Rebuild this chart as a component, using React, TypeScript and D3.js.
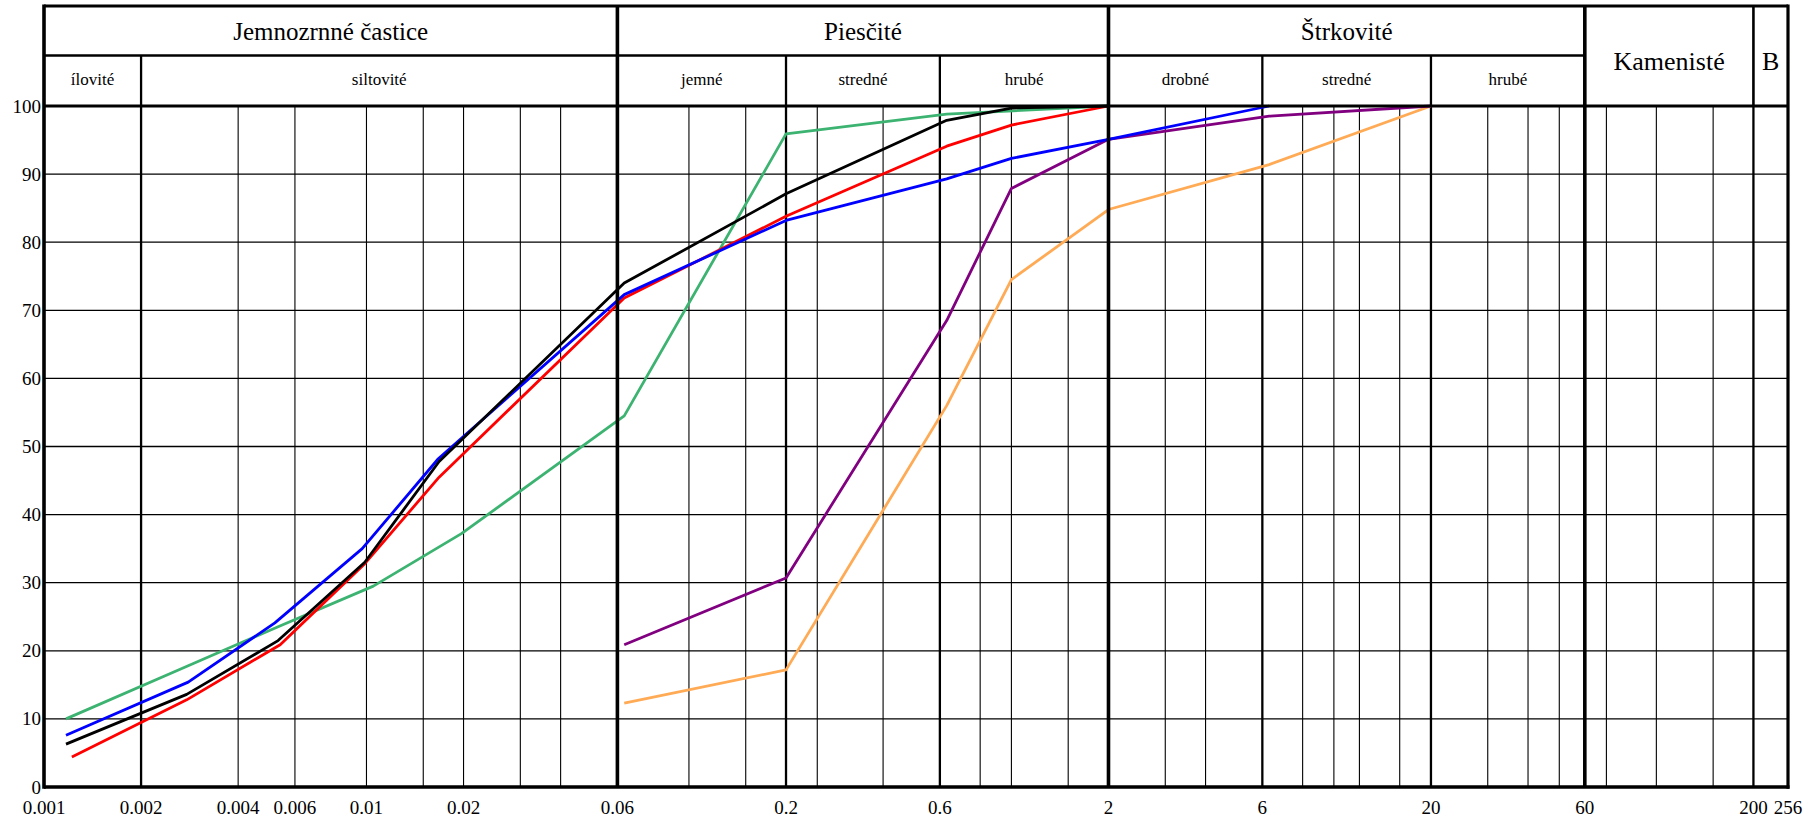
import React from "react";
import * as d3 from "d3";

const W = 1816;
const H = 816;

// Tick labels
const xTickValues = [0.001, 0.002, 0.004, 0.006, 0.01, 0.02, 0.06, 0.2, 0.6, 2, 6, 20, 60, 200, 256];
const xTickLabels = ["0.001", "0.002", "0.004", "0.006", "0.01", "0.02", "0.06", "0.2", "0.6", "2", "6", "20", "60", "200", "256"];
const yTickValues = [0, 10, 20, 30, 40, 50, 60, 70, 80, 90, 100];

// Grid lines
const majorLines = [0.06, 2, 60];
const mediumLines = [0.002, 0.2, 0.6, 6, 20, 200];
const minorLines = [0.004, 0.006, 0.01, 0.015, 0.02, 0.03, 0.04, 0.1, 0.15, 0.25, 0.4, 0.8, 1.0, 1.5, 3, 4, 8, 10, 12, 16, 30, 40, 50, 70, 100, 150];

// Header classes
const topClasses = [
  { label: "Jemnozrnné častice", from: 0.001, to: 0.06 },
  { label: "Piesčité", from: 0.06, to: 2 },
  { label: "Štrkovité", from: 2, to: 60 },
];
const fullClasses = [
  { label: "Kamenisté", from: 60, to: 200 },
  { label: "B", from: 200, to: 256 },
];
const subClasses = [
  { label: "ílovité", from: 0.001, to: 0.002 },
  { label: "siltovité", from: 0.002, to: 0.06 },
  { label: "jemné", from: 0.06, to: 0.2 },
  { label: "stredné", from: 0.2, to: 0.6 },
  { label: "hrubé", from: 0.6, to: 2 },
  { label: "drobné", from: 2, to: 6 },
  { label: "stredné", from: 6, to: 20 },
  { label: "hrubé", from: 20, to: 60 },
];

// Series: [grain size mm, percent passing]
const blackSeries: [number, number][] = [
  [0.00117, 6.3], [0.00277, 13.6], [0.00532, 21.5], [0.00988, 33.0], [0.0168, 47.8],
  [0.063, 74.0], [0.2, 87.1], [0.63, 97.9], [1.0, 99.7], [2, 100],
];
const redSeries: [number, number][] = [
  [0.00122, 4.4], [0.00277, 12.8], [0.0054, 20.9], [0.00988, 32.8], [0.0168, 45.5],
  [0.063, 71.8], [0.2, 83.8], [0.63, 94.1], [1.0, 97.2], [2, 100],
];
const blueSeries: [number, number][] = [
  [0.00117, 7.6], [0.0028, 15.4], [0.0052, 24.1], [0.0097, 35.0], [0.0167, 48.2],
  [0.063, 72.3], [0.2, 83.2], [0.63, 89.3], [1.0, 92.3], [2, 95.1], [6.3, 100],
];
const greenSeries: [number, number][] = [
  [0.00117, 10.0], [0.0028, 17.8], [0.0053, 23.5], [0.0105, 29.5], [0.0197, 37.2],
  [0.063, 54.5], [0.2, 95.9], [0.63, 98.8], [2, 100],
];
const purpleSeries: [number, number][] = [
  [0.063, 20.9], [0.2, 30.7], [0.63, 68.5], [1.0, 87.9], [2, 95.1], [6.3, 98.5], [20, 100],
];
const orangeSeries: [number, number][] = [
  [0.063, 12.3], [0.2, 17.2], [0.63, 56.0], [1.0, 74.5], [2, 84.8], [6.3, 91.4], [20, 100],
];

const series = [
  { data: greenSeries, color: "#3cb371" },
  { data: orangeSeries, color: "#ffaa55" },
  { data: purpleSeries, color: "#800080" },
  { data: redSeries, color: "#ff0000" },
  { data: blueSeries, color: "#0000ff" },
  { data: blackSeries, color: "#000000" },
];

const FONT = '"Liberation Serif", "Times New Roman", Times, serif';

export default function App() {
  const x = d3.scaleLog().domain([0.001, 256]).range([44, 1788]);
  const y = d3.scaleLinear().domain([0, 100]).range([787, 106]);

  const topY = 6;
  const midY = 55.5;
  const plotTop = y(100);
  const plotBottom = y(0);

  const line = d3
    .line<[number, number]>()
    .x((d) => x(d[0]))
    .y((d) => y(d[1]));

  const textStyle = { fontFamily: FONT };

  return (
    <svg
      width={W}
      height={H}
      style={{ position: "absolute", left: 0, top: 0, background: "#fff", fontFamily: FONT }}
    >
      <rect x={0} y={0} width={W} height={H} fill="#fff" />

      {/* horizontal grid */}
      {yTickValues
        .filter((v) => v > 0 && v < 100)
        .map((v) => (
          <line key={"h" + v} x1={x(0.001)} x2={x(256)} y1={y(v)} y2={y(v)} stroke="#000" strokeWidth={1.3} />
        ))}

      {/* minor vertical grid */}
      {minorLines.map((v) => (
        <line key={"mi" + v} x1={x(v)} x2={x(v)} y1={plotTop} y2={plotBottom} stroke="#000" strokeWidth={1.1} />
      ))}

      {/* medium vertical lines in plot */}
      {mediumLines.map((v) => (
        <line key={"me" + v} x1={x(v)} x2={x(v)} y1={plotTop} y2={plotBottom} stroke="#000" strokeWidth={2.3} />
      ))}

      {/* data lines */}
      {series.map((s, i) => (
        <path key={"s" + i} d={line(s.data) || ""} fill="none" stroke={s.color} strokeWidth={2.8} strokeLinejoin="round" />
      ))}

      {/* medium vertical lines in header row 2 */}
      {mediumLines
        .filter((v) => v < 60)
        .map((v) => (
          <line key={"hm" + v} x1={x(v)} x2={x(v)} y1={midY} y2={plotTop} stroke="#000" strokeWidth={2.3} />
        ))}
      {/* 200 line through header */}
      <line x1={x(200)} x2={x(200)} y1={topY} y2={plotTop} stroke="#000" strokeWidth={2.6} />

      {/* major vertical lines */}
      {majorLines.map((v) => (
        <line key={"ma" + v} x1={x(v)} x2={x(v)} y1={topY} y2={plotBottom} stroke="#000" strokeWidth={3.6} />
      ))}

      {/* header horizontals */}
      <line x1={x(0.001)} x2={x(256)} y1={topY} y2={topY} stroke="#000" strokeWidth={3.2} />
      <line x1={x(0.001)} x2={x(60)} y1={midY} y2={midY} stroke="#000" strokeWidth={2.4} />
      <line x1={x(0.001)} x2={x(256)} y1={plotTop} y2={plotTop} stroke="#000" strokeWidth={3.2} />
      <line x1={x(0.001)} x2={x(256) + 1.5} y1={plotBottom} y2={plotBottom} stroke="#000" strokeWidth={3.6} />

      {/* outer left / right */}
      <line x1={x(0.001)} x2={x(0.001)} y1={topY - 1.6} y2={plotBottom + 1.8} stroke="#000" strokeWidth={3.6} />
      <line x1={x(256)} x2={x(256)} y1={topY - 1.6} y2={plotBottom + 1.8} stroke="#000" strokeWidth={3.2} />

      {/* header texts */}
      {topClasses.map((c) => (
        <text
          key={c.label}
          x={(x(c.from) + x(c.to)) / 2}
          y={(topY + midY) / 2 + 1}
          textAnchor="middle"
          dominantBaseline="central"
          fontSize={25}
          fill="#000"
          style={textStyle}
        >
          {c.label}
        </text>
      ))}
      {fullClasses.map((c) => (
        <text
          key={c.label}
          x={(x(c.from) + x(c.to)) / 2}
          y={(topY + plotTop) / 2 + 5}
          textAnchor="middle"
          dominantBaseline="central"
          fontSize={26}
          fill="#000"
          style={textStyle}
        >
          {c.label}
        </text>
      ))}
      {subClasses.map((c, i) => (
        <text
          key={"sub" + i}
          x={(x(c.from) + x(c.to)) / 2}
          y={(midY + plotTop) / 2 - 1}
          textAnchor="middle"
          dominantBaseline="central"
          fontSize={17}
          fill="#000"
          style={textStyle}
        >
          {c.label}
        </text>
      ))}

      {/* y tick labels */}
      {yTickValues.map((v) => (
        <text key={"yl" + v} x={41} y={y(v)} textAnchor="end" dominantBaseline="central" fontSize={19} fill="#000" style={textStyle}>
          {v}
        </text>
      ))}

      {/* x tick labels */}
      {xTickValues.map((v, i) => (
        <text key={"xl" + v} x={x(v)} y={807} textAnchor="middle" dominantBaseline="central" fontSize={19} fill="#000" style={textStyle}>
          {xTickLabels[i]}
        </text>
      ))}
    </svg>
  );
}
